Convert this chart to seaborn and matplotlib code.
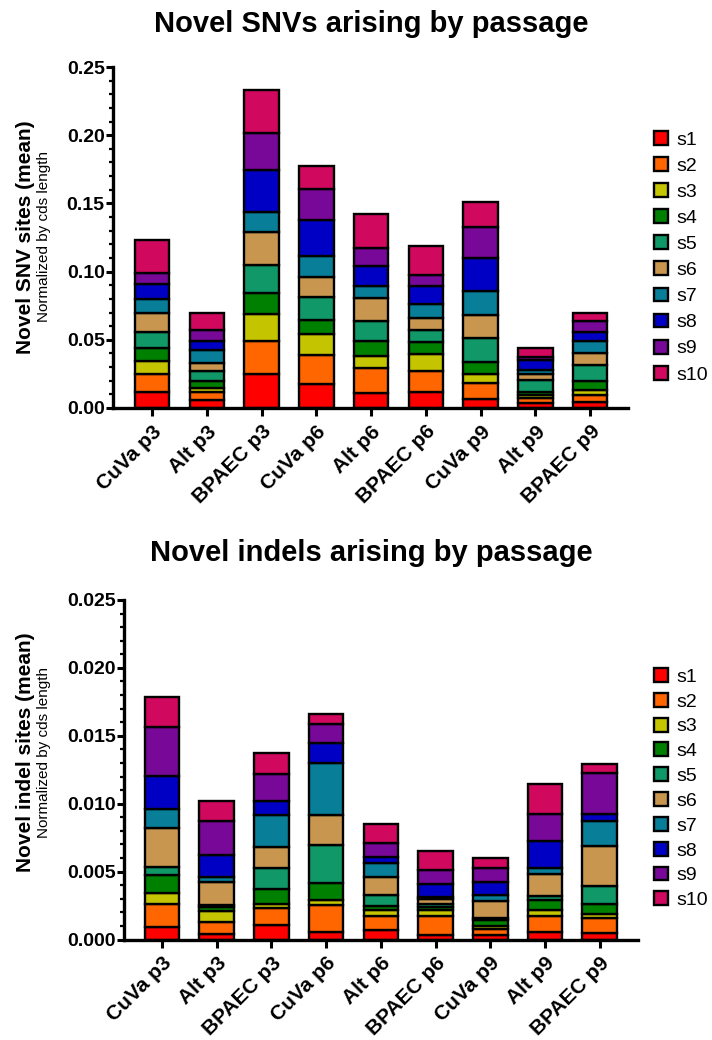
import matplotlib
matplotlib.use("Agg")
import matplotlib.pyplot as plt
from matplotlib.patches import Patch
from matplotlib.ticker import MultipleLocator, AutoMinorLocator, FormatStrFormatter
import seaborn as sns
import numpy as np

sns.set_theme(style="white")
plt.rcParams['font.family'] = ['Liberation Sans', 'DejaVu Sans']
plt.rcParams['text.color'] = 'black'
plt.rcParams['axes.labelcolor'] = 'black'
plt.rcParams['xtick.color'] = 'black'
plt.rcParams['ytick.color'] = 'black'

categories = ["CuVa p3", "Alt p3", "BPAEC p3", "CuVa p6", "Alt p6", "BPAEC p6", "CuVa p9", "Alt p9", "BPAEC p9"]
series = ["s1", "s2", "s3", "s4", "s5", "s6", "s7", "s8", "s9", "s10"]
colors = ["#FF0000", "#FF6600", "#C4C400", "#008000", "#109868", "#C8964F", "#087E98", "#0000C4", "#780898", "#D0085E"]

# SNV values: rows = series s1..s10, columns = categories
snv_s1  = [0.0117, 0.0061, 0.0247, 0.0174, 0.0110, 0.0117, 0.0064, 0.0037, 0.0042]
snv_s2  = [0.0130, 0.0054, 0.0242, 0.0217, 0.0186, 0.0152, 0.0122, 0.0036, 0.0051]
snv_s3  = [0.0095, 0.0029, 0.0198, 0.0149, 0.0083, 0.0125, 0.0061, 0.0020, 0.0037]
snv_s4  = [0.0100, 0.0054, 0.0159, 0.0108, 0.0110, 0.0087, 0.0090, 0.0022, 0.0068]
snv_s5  = [0.0115, 0.0073, 0.0200, 0.0166, 0.0151, 0.0089, 0.0179, 0.0088, 0.0115]
snv_s6  = [0.0142, 0.0061, 0.0244, 0.0146, 0.0164, 0.0092, 0.0166, 0.0046, 0.0090]
snv_s7  = [0.0098, 0.0091, 0.0145, 0.0154, 0.0090, 0.0098, 0.0178, 0.0032, 0.0086]
snv_s8  = [0.0110, 0.0071, 0.0308, 0.0262, 0.0145, 0.0137, 0.0242, 0.0069, 0.0066]
snv_s9  = [0.0083, 0.0075, 0.0273, 0.0232, 0.0137, 0.0076, 0.0225, 0.0024, 0.0080]
snv_s10 = [0.0240, 0.0128, 0.0318, 0.0169, 0.0244, 0.0213, 0.0186, 0.0063, 0.0064]

# indel values
ind_s1  = [0.00094, 0.00042, 0.00104, 0.00057, 0.00070, 0.00030, 0.00030, 0.00054, 0.00045]
ind_s2  = [0.00170, 0.00090, 0.00126, 0.00200, 0.00100, 0.00140, 0.00050, 0.00120, 0.00110]
ind_s3  = [0.00080, 0.00080, 0.00030, 0.00035, 0.00050, 0.00045, 0.00020, 0.00040, 0.00030]
ind_s4  = [0.00130, 0.00025, 0.00110, 0.00126, 0.00025, 0.00025, 0.00045, 0.00080, 0.00080]
ind_s5  = [0.00060, 0.00020, 0.00160, 0.00280, 0.00085, 0.00025, 0.00010, 0.00030, 0.00130]
ind_s6  = [0.00290, 0.00165, 0.00150, 0.00220, 0.00130, 0.00035, 0.00130, 0.00160, 0.00290]
ind_s7  = [0.00140, 0.00040, 0.00240, 0.00380, 0.00100, 0.00010, 0.00045, 0.00040, 0.00190]
ind_s8  = [0.00240, 0.00160, 0.00100, 0.00150, 0.00050, 0.00100, 0.00093, 0.00200, 0.00050]
ind_s9  = [0.00360, 0.00250, 0.00200, 0.00140, 0.00100, 0.00100, 0.00100, 0.00200, 0.00300]
ind_s10 = [0.00220, 0.00150, 0.00150, 0.00070, 0.00140, 0.00140, 0.00080, 0.00220, 0.00070]

snv = [snv_s1, snv_s2, snv_s3, snv_s4, snv_s5, snv_s6, snv_s7, snv_s8, snv_s9, snv_s10]
ind = [ind_s1, ind_s2, ind_s3, ind_s4, ind_s5, ind_s6, ind_s7, ind_s8, ind_s9, ind_s10]

fig = plt.figure(figsize=(7.12, 10.4), dpi=100)
ax1 = fig.add_axes([113/712, 1-408/1040, 515/712, 341/1040])
ax2 = fig.add_axes([124/712, 1-939.5/1040, 514/712, 339.5/1040])


def stacked(ax, data, ymax, major, fmt, xlim):
    bottom = np.zeros(len(categories))
    for name, vals, col in zip(series, data, colors):
        sns.barplot(x=categories, y=vals, bottom=bottom, color=col, saturation=1,
                    width=0.63, edgecolor="black", linewidth=1.7, ax=ax, errorbar=None)
        bottom = bottom + np.array(vals)
    ax.set_ylim(0, ymax)
    ax.set_xlim(*xlim)
    ax.yaxis.set_major_locator(MultipleLocator(major))
    ax.yaxis.set_minor_locator(AutoMinorLocator(5))
    ax.yaxis.set_major_formatter(FormatStrFormatter(fmt))
    for s in ["top", "right"]:
        ax.spines[s].set_visible(False)
    for s in ["left", "bottom"]:
        ax.spines[s].set_linewidth(2.4)
        ax.spines[s].set_color("black")
    ax.tick_params(axis="y", which="major", direction="out", length=5, width=2.2,
                   left=True, labelsize=14, pad=1.0, color="black")
    ax.tick_params(axis="y", which="minor", direction="out", length=3, width=1.6,
                   left=True, color="black")
    ax.tick_params(axis="x", which="major", direction="out", length=6, width=2.2,
                   bottom=True, labelsize=15, pad=4, color="black")
    ax.set_xticks(range(len(categories)))
    ax.set_xticklabels(categories, rotation=45, ha="right", rotation_mode="anchor",
                       fontweight="bold")
    for lab in ax.get_yticklabels():
        lab.set_fontweight("bold")
    ax.set_xlabel("")
    ax.set_ylabel("")
    ax.grid(False)


stacked(ax1, snv, 0.25, 0.05, "%.2f", (-0.712, 8.69))
stacked(ax2, ind, 0.025, 0.005, "%.3f", (-0.695, 8.70))

fig.text(371/712, 1-24/1040, "Novel SNVs arising by passage", ha="center", va="center",
         fontsize=21, fontweight="bold")
fig.text(371/712, 1-553/1040, "Novel indels arising by passage", ha="center", va="center",
         fontsize=21, fontweight="bold")

fig.text(26/712, 1-237/1040, "Novel SNV sites (mean)", rotation=90, ha="center", va="center",
         fontsize=15, fontweight="bold")
fig.text(44/712, 1-237/1040, "Normalized by cds length", rotation=90, ha="center", va="center",
         fontsize=11)
fig.text(26/712, 1-752/1040, "Novel indel sites (mean)", rotation=90, ha="center", va="center",
         fontsize=15, fontweight="bold")
fig.text(44/712, 1-752/1040, "Normalized by cds length", rotation=90, ha="center", va="center",
         fontsize=11)

handles = [Patch(facecolor=c, edgecolor="black", linewidth=1.7, label=s) for s, c in zip(series, colors)]
for ytop, spacing in [(131, 0.43), (668, 0.365)]:
    fig.legend(handles=handles, loc="upper left", bbox_to_anchor=(654/712, 1-ytop/1040),
               frameon=False, fontsize=14, handlelength=0.72, handleheight=0.72,
               handletextpad=0.45, labelspacing=spacing, borderaxespad=0, borderpad=0)

fig.savefig("out.png", dpi=100)
